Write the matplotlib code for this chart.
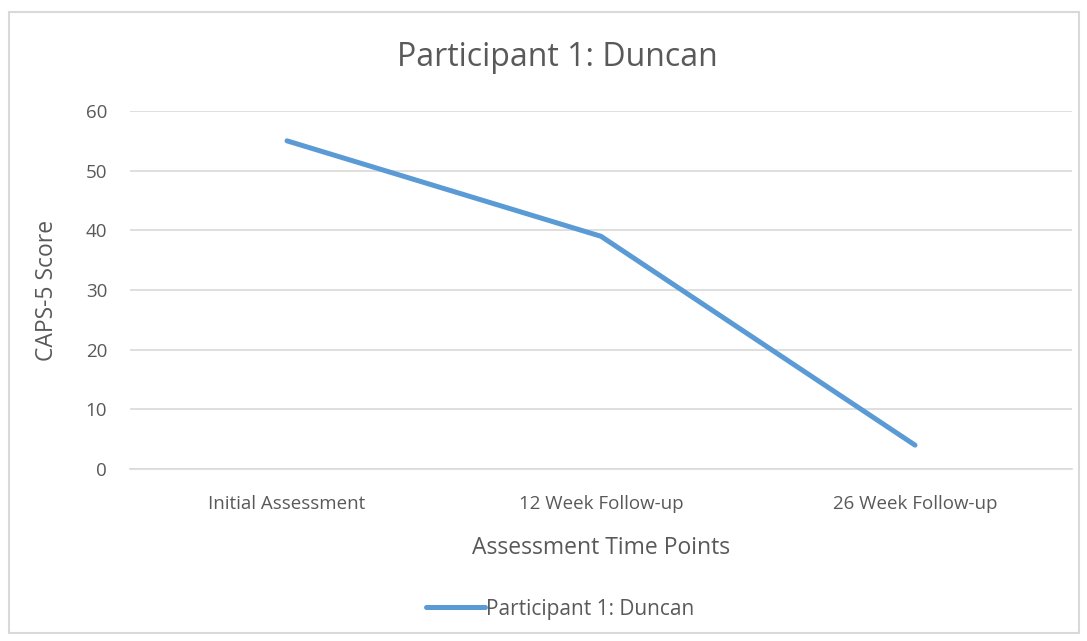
import matplotlib.pyplot as plt
from matplotlib.patches import Rectangle

categories = ['Initial Assessment', '12 Week Follow-up', '26 Week Follow-up']
scores = [55, 39, 4]
series_name = 'Participant 1: Duncan'

txt = '#595959'
blue = '#5B9BD5'
grid = '#D9D9D9'

plt.rcParams['font.family'] = ['Open Sans', 'DejaVu Sans']

fig = plt.figure(figsize=(10.87, 6.41), dpi=100)
fig.patches.append(Rectangle((9/1087, 8/641), 1070/1087, 621/641, transform=fig.transFigure,
                             fill=False, edgecolor=grid, lw=1.5))
ax = fig.add_axes([130/1087, 1-469/641, 942/1087, 358/641])

x = range(len(categories))
ax.plot(x, scores, color=blue, lw=3.6, solid_capstyle='round', solid_joinstyle='round',
        label=series_name)

ax.set_xlim(-0.5, len(categories) - 0.5)
ax.set_ylim(0, 60)
ax.set_yticks(range(0, 61, 10))
ax.set_xticks(list(x))
ax.set_xticklabels(categories)
ax.grid(axis='y', color=grid, lw=1.2)
ax.set_axisbelow(True)
for s in ax.spines.values():
    s.set_visible(False)
ax.spines['bottom'].set_visible(True)
ax.spines['bottom'].set_color(grid)
ax.spines['bottom'].set_linewidth(1.2)
ax.tick_params(length=0, labelsize=13.5, labelcolor=txt)
ax.tick_params(axis='x', pad=18.5)
ax.tick_params(axis='y', pad=16.5)

ax.set_ylabel('CAPS-5 Score', fontsize=16.5, color=txt, labelpad=19)
ax.set_xlabel('Assessment Time Points', fontsize=16.5, color=txt, labelpad=17)
fig.text(557/1087, 1-58/641, 'Participant 1: Duncan', fontsize=23, color=txt,
         ha='center', va='center')

leg = fig.legend(loc='center', bbox_to_anchor=(560/1087, 1-609/641), frameon=False,
                 fontsize=15, handlelength=2.8, handletextpad=0.05)
for t in leg.get_texts():
    t.set_color(txt)

fig.savefig('out.png', dpi=100)
